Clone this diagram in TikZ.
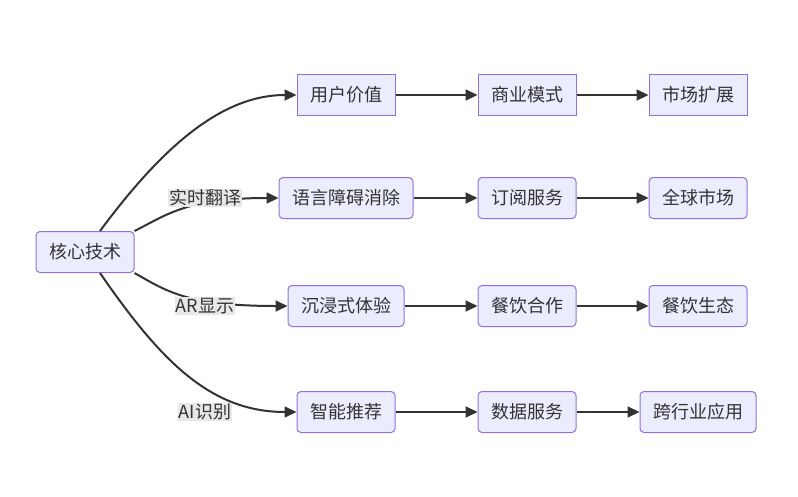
\documentclass[tikz,border=0pt]{standalone}
\usepackage{fontspec}
\setmainfont{Noto Sans CJK SC}
\usetikzlibrary{calc,arrows.meta}
\definecolor{boxfill}{HTML}{ECECFF}
\definecolor{boxline}{HTML}{9370DB}
\definecolor{edgeline}{HTML}{333333}
\definecolor{lblfill}{HTML}{E8E8E8}
\tikzset{
	box/.style={draw=boxline, fill=boxfill, line width=1pt, minimum height=41pt, inner xsep=13pt, font=\fontsize{18}{20}\selectfont, text=edgeline},
	rbox/.style={box, rounded corners=4pt},
	lbl/.style={fill=lblfill, inner sep=1pt, font=\fontsize{18}{20}\selectfont, text=edgeline},
	link/.style={draw=edgeline, line width=2pt, -{Triangle[length=12pt,width=11pt]}}
}
\begin{document}
\begin{tikzpicture}[x=1pt,y=-1pt]
	\useasboundingbox (0,0) rectangle (798,496);
	% nodes
	\node[rbox] (core) at (85,252) {核心技术};
	\node[box] (user) at (346,95) {用户价值};
	\node[box] (biz) at (527,95) {商业模式};
	\node[box] (market) at (698,95) {市场扩展};
	\node[rbox] (lang) at (346,198) {语言障碍消除};
	\node[rbox] (sub) at (527,198) {订阅服务};
	\node[rbox] (global) at (698,198) {全球市场};
	\node[rbox] (immer) at (346,306) {沉浸式体验};
	\node[rbox] (dine) at (527,306) {餐饮合作};
	\node[rbox] (eco) at (698,306) {餐饮生态};
	\node[rbox] (rec) at (346,412) {智能推荐};
	\node[rbox] (data) at (527,412) {数据服务};
	\node[rbox] (cross) at (698,412) {跨行业应用};
	% branches
	\draw[link] ($(core.north)+(15,0)$) .. controls (160,150) and (220,95) .. (user.west);
	\draw[link] (core.north east) .. controls (165,216) and (185,198) .. (lang.west);
	\draw[link] (core.south east) .. controls (165,290) and (185,306) .. (immer.west);
	\draw[link] ($(core.south)+(15,0)$) .. controls (160,360) and (210,412) .. (rec.west);
	\node[lbl] (l1) at (205,198) {实时翻译};
	\node[lbl] (l2) at (205,306) {AR显示};
	\node[lbl] (l3) at (205,412) {AI识别};
	% rows
	\foreach \a/\b in {user/biz,biz/market,lang/sub,sub/global,immer/dine,dine/eco,rec/data,data/cross}
		\draw[link] (\a) -- (\b);
\end{tikzpicture}
\end{document}
